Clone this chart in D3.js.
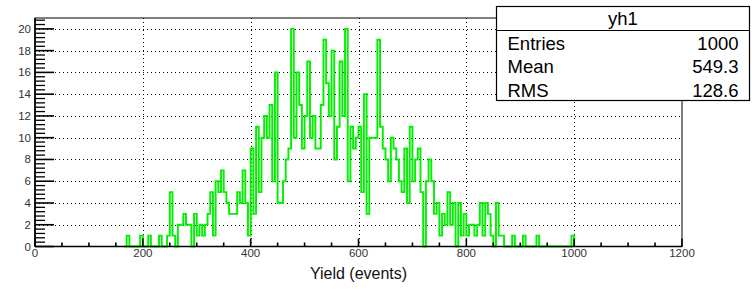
<!DOCTYPE html>
<html>
<head>
<meta charset="utf-8">
<script src="https://cdn.jsdelivr.net/npm/d3@7"></script>
<style>
  body { margin: 0; background: #fff; }
  text { font-family: "Liberation Sans", Arial, sans-serif; }
</style>
</head>
<body>
<svg id="chart" width="752" height="292"></svg>
<script>
// histogram yh1, bins of 5 starting at 165
const histName = "yh1";
const xTitle = "Yield (events)";
const statsLabels = ["Entries", "Mean", "RMS"];
const statsValues = ["1000", "549.3", "128.6"];
const binStart = 165;
const binWidth = 5;
const counts = [
    0, 1, 0, 0, 0, 0, 1, 0, 0, 1,        // 165-210
    0, 0, 0, 1, 0, 0, 1, 5, 1, 0,        // 215-260
    2, 2, 3, 2, 2, 0, 3, 1, 2, 1,        // 265-310
    2, 3, 5, 1, 6, 5, 7, 5, 4, 3,        // 315-360
    3, 3, 5, 4, 7, 4, 1, 9, 3, 11,       // 365-410
    5, 10, 12, 10, 13, 6, 16, 4, 4, 6,   // 415-460
    8, 9, 20, 10, 16, 13, 9, 12, 17, 10, // 465-510
    12, 9, 9, 13, 19, 15, 12, 18, 8, 11, // 515-560
    17, 12, 20, 6, 11, 9, 10, 11, 5, 14, // 565-610
    3, 10, 10, 10, 19, 11, 9, 8, 6, 10,  // 615-660
    9, 8, 6, 5, 9, 4, 11, 6, 8, 9,       // 665-710
    5, 0, 6, 8, 6, 3, 4, 1, 3, 2,        // 715-760
    5, 2, 4, 0, 4, 1, 3, 1, 2, 2,        // 765-810
    1, 2, 4, 1, 4, 3, 1, 0, 4, 1,        // 815-860
    1, 0, 0, 0, 1, 0, 0, 0, 1, 0,        // 865-910
    0, 0, 0, 1, 0, 0, 0, 0, 0, 0,        // 915-960
    0, 0, 0, 0, 0, 0, 1                  // 965-995
];
const xMajor = [0, 200, 400, 600, 800, 1000, 1200];
const yMajor = [0, 2, 4, 6, 8, 10, 12, 14, 16, 18, 20];
const xDomain = [0, 1200];
const yDomain = [0, 21];

const svg = d3.select("#chart");
const frame = { left: 35, right: 682, top: 18, bottom: 246.5 };

const x = d3.scaleLinear().domain(xDomain).range([frame.left, frame.right]);
const y = d3.scaleLinear().domain(yDomain).range([frame.bottom, frame.top]);

// grid (dotted)
const grid = svg.append("g")
    .attr("stroke", "#000")
    .attr("stroke-width", 1)
    .attr("stroke-dasharray", "1,3");

grid.selectAll("line.gx")
    .data(xMajor.filter(d => d > xDomain[0] && d < xDomain[1]))
    .enter().append("line")
    .attr("x1", d => Math.round(x(d)) + 0.5)
    .attr("x2", d => Math.round(x(d)) + 0.5)
    .attr("y1", frame.top)
    .attr("y2", frame.bottom);

grid.selectAll("line.gy")
    .data(yMajor.filter(d => d > 0))
    .enter().append("line")
    .attr("x1", frame.left)
    .attr("x2", frame.right)
    .attr("y1", d => Math.round(y(d)) + 0.5)
    .attr("y2", d => Math.round(y(d)) + 0.5);

// histogram outline
const pts = [[binStart, 0]];
counts.forEach((c, i) => {
    const lo = binStart + i * binWidth;
    pts.push([lo, c], [lo + binWidth, c]);
});
pts.push([binStart + counts.length * binWidth, 0]);

const stepLine = d3.line()
    .x(d => x(d[0]))
    .y(d => y(d[1]));

svg.append("path")
    .datum(pts)
    .attr("d", stepLine)
    .attr("fill", "none")
    .attr("stroke", "#00f000")
    .attr("stroke-width", 1.9);

// frame
svg.append("rect")
    .attr("x", frame.left)
    .attr("y", frame.top)
    .attr("width", frame.right - frame.left)
    .attr("height", frame.bottom - frame.top)
    .attr("fill", "none")
    .attr("stroke", "#000")
    .attr("stroke-width", 1);

// axes lines
const axes = svg.append("g").attr("stroke", "#000").attr("stroke-width", 1.6);
axes.append("line")
    .attr("x1", frame.left).attr("x2", frame.right)
    .attr("y1", frame.bottom).attr("y2", frame.bottom);
axes.append("line")
    .attr("x1", frame.left).attr("x2", frame.left)
    .attr("y1", frame.top).attr("y2", frame.bottom);

// y ticks: major every 2, minor every 0.4
const yMinor = d3.range(0, 21.01, 0.4).filter(v => Math.abs(v / 2 - Math.round(v / 2)) > 1e-6);
axes.selectAll("line.ymaj")
    .data(yMajor)
    .enter().append("line")
    .attr("x1", frame.left).attr("x2", frame.left + 19)
    .attr("y1", d => y(d)).attr("y2", d => y(d));
axes.selectAll("line.ymin")
    .data(yMinor)
    .enter().append("line")
    .attr("stroke-width", 1.3)
    .attr("x1", frame.left).attr("x2", frame.left + 10)
    .attr("y1", d => y(d)).attr("y2", d => y(d));

// x ticks: major every 200, minor every 50
const xMinor = d3.range(50, 1200, 50).filter(v => v % 200 !== 0);
axes.selectAll("line.xmaj")
    .data(xMajor)
    .enter().append("line")
    .attr("x1", d => x(d)).attr("x2", d => x(d))
    .attr("y1", frame.bottom).attr("y2", frame.bottom - 8);
axes.selectAll("line.xmin")
    .data(xMinor)
    .enter().append("line")
    .attr("x1", d => x(d)).attr("x2", d => x(d))
    .attr("y1", frame.bottom).attr("y2", frame.bottom - 4);

// tick labels
svg.append("g").selectAll("text")
    .data(yMajor)
    .enter().append("text")
    .attr("x", frame.left - 4)
    .attr("y", d => y(d) + 4)
    .attr("text-anchor", "end")
    .attr("font-size", 11.5)
    .attr("fill", "#333")
    .text(d => d);

svg.append("g").selectAll("text")
    .data(xMajor)
    .enter().append("text")
    .attr("x", d => x(d))
    .attr("y", frame.bottom + 10.5)
    .attr("text-anchor", "middle")
    .attr("font-size", 11.5)
    .attr("fill", "#333")
    .text(d => d);

// axis title
svg.append("text")
    .attr("x", (frame.left + frame.right) / 2)
    .attr("y", 279)
    .attr("text-anchor", "middle")
    .attr("font-size", 16)
    .attr("fill", "#111")
    .text(xTitle);

// stats box
const box = { x: 496.5, y: 6.5, w: 253, h: 94, titleH: 24 };
const stats = svg.append("g");
stats.append("rect")
    .attr("x", box.x).attr("y", box.y)
    .attr("width", box.w).attr("height", box.h)
    .attr("fill", "#fff").attr("stroke", "#000").attr("stroke-width", 1.2);
stats.append("line")
    .attr("x1", box.x).attr("x2", box.x + box.w)
    .attr("y1", box.y + box.titleH).attr("y2", box.y + box.titleH)
    .attr("stroke", "#000").attr("stroke-width", 1.2);
stats.append("text")
    .attr("x", box.x + box.w / 2)
    .attr("y", box.y + 18)
    .attr("text-anchor", "middle")
    .attr("font-size", 18.5)
    .text(histName);
stats.selectAll("text.lab")
    .data(statsLabels)
    .enter().append("text")
    .attr("x", box.x + 11)
    .attr("y", (d, i) => 49.5 + i * 23.5)
    .attr("font-size", 18.5)
    .text(d => d);
stats.selectAll("text.val")
    .data(statsValues)
    .enter().append("text")
    .attr("x", box.x + box.w - 11)
    .attr("y", (d, i) => 49.5 + i * 23.5)
    .attr("text-anchor", "end")
    .attr("font-size", 18.5)
    .text(d => d);
</script>
</body>
</html>
